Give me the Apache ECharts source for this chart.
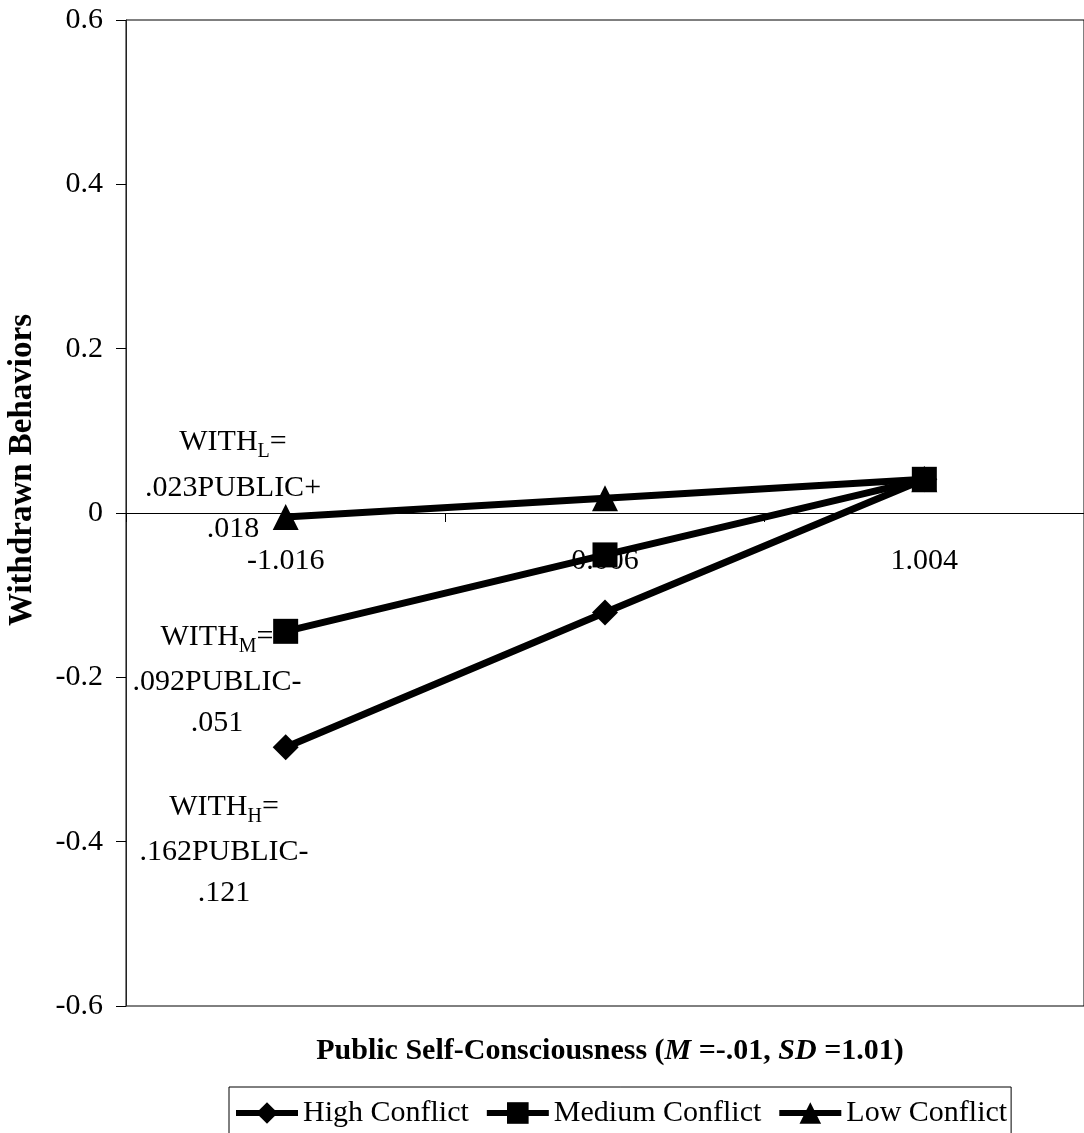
<!DOCTYPE html>
<html>
<head>
<meta charset="utf-8">
<script src="https://cdn.jsdelivr.net/npm/echarts@6/dist/echarts.min.js"></script>
<style>html,body{margin:0;padding:0;background:#fff;}#c{width:1084px;height:1133px;}</style>
</head>
<body>
<div id="c"></div>
<script>
const categories = ['-1.016', '0.006', '1.004'];
const seriesNames = ['High Conflict', 'Medium Conflict', 'Low Conflict'];
const highConflict = [-0.285, -0.121, 0.041];
const mediumConflict = [-0.144, -0.051, 0.041];
const lowConflict = [-0.005, 0.018, 0.041];
const yTickLabels = ['-0.6', '-0.4', '-0.2', '0', '0.2', '0.4', '0.6'];
const yMin = -0.6, yMax = 0.6, yStep = 0.2;
const equationLines = {
  L: ['{m|WITH}{s|L}{m|=}', '.023PUBLIC+', '.018'],
  M: ['{m|WITH}{s|M}{m|=}', '.092PUBLIC-', '.051'],
  H: ['{m|WITH}{s|H}{m|=}', '.162PUBLIC-', '.121']
};

const FONT = "'Liberation Serif', 'Times New Roman', serif";
const chart = echarts.init(document.getElementById('c'), null, {renderer: 'canvas'});

const GRID_TOP = 20, GRID_H = 986;
// x axis sits on the value 0: offset it up from the grid bottom by the scale's own position
const zeroFrac = (yMax - 0) / (yMax - yMin);
const xAxisOffset = -(GRID_H - GRID_H * zeroFrac);

const richSub = {
  m: {fontSize: 30, fontFamily: FONT, color: '#000', lineHeight: 40},
  s: {fontSize: 20, fontFamily: FONT, color: '#000', lineHeight: 20, verticalAlign: 'bottom'}
};
function annoGroup(lines, cx, ys) {
  return lines.map((t, i) => ({
    type: 'text', x: cx, y: ys[i], z: 100,
    style: {
      text: i === 0 ? t : '{m|' + t + '}',
      rich: richSub,
      align: 'center', verticalAlign: 'middle',
      fill: '#000', fontSize: 30, fontFamily: FONT
    }
  }));
}

const graphics = [].concat(
  annoGroup(equationLines.L, 233, [442, 488, 529]),
  annoGroup(equationLines.M, 217, [637, 682, 723]),
  annoGroup(equationLines.H, 224, [807, 852, 893]),
  [{
    type: 'text', x: 22, y: 470, rotation: Math.PI / 2, z: 100,
    style: {
      text: 'Withdrawn Behaviors', align: 'center', verticalAlign: 'middle',
      fill: '#000', fontSize: 33, fontWeight: 'bold', fontFamily: FONT
    }
  }, {
    type: 'text', x: 610, y: 1051, z: 100,
    style: {
      text: '{b|Public Self-Consciousness (}{i|M}{b| =-.01, }{i|SD}{b| =1.01)}',
      align: 'center', verticalAlign: 'middle',
      rich: {
        b: {fontSize: 30, fontWeight: 'bold', fontFamily: FONT, color: '#000'},
        i: {fontSize: 30, fontWeight: 'bold', fontStyle: 'italic', fontFamily: FONT, color: '#000'}
      }
    }
  }]
);

const lineCommon = {
  type: 'line',
  lineStyle: {color: '#000', width: 7},
  itemStyle: {color: '#000'},
  showSymbol: true,
  emphasis: {disabled: true},
  animation: false
};

chart.setOption({
  animation: false,
  backgroundColor: '#fff',
  grid: {left: 126, top: GRID_TOP, width: 964, height: GRID_H, show: true, borderColor: '#000', borderWidth: 1},
  xAxis: {
    type: 'category', data: categories, boundaryGap: true,
    position: 'bottom', offset: xAxisOffset,
    axisLine: {onZero: false, lineStyle: {color: '#000', width: 1}},
    axisTick: {show: true, length: 9, lineStyle: {color: '#000'}},
    axisLabel: {fontSize: 30, fontFamily: FONT, color: '#000', margin: 33},
    splitLine: {show: false}
  },
  yAxis: {
    type: 'value', min: yMin, max: yMax, interval: yStep,
    axisLine: {show: true, lineStyle: {color: '#222', width: 1}},
    axisTick: {show: true, length: 10, lineStyle: {color: '#000'}},
    axisLabel: {
      fontSize: 30, fontFamily: FONT, color: '#000', margin: 23,
      formatter: v => yTickLabels[Math.round((v - yMin) / yStep)]
    },
    splitLine: {show: false}
  },
  legend: {
    data: seriesNames,
    left: 229, top: 1087,
    orient: 'horizontal',
    itemWidth: 62, itemHeight: 27, itemGap: 15,
    padding: [11, 4, 11, 4],
    borderColor: '#000', borderWidth: 1,
    lineStyle: {width: 6, color: '#000'},
    textStyle: {fontSize: 30, fontFamily: FONT, color: '#000', padding: [0, 0, 0, 0]},
    selectedMode: false
  },
  graphic: graphics,
  series: [
    Object.assign({}, lineCommon, {name: seriesNames[0], data: highConflict, symbol: 'diamond', symbolSize: 26, z: 2}),
    Object.assign({}, lineCommon, {name: seriesNames[1], data: mediumConflict, symbol: 'rect', symbolSize: 25, z: 4}),
    Object.assign({}, lineCommon, {name: seriesNames[2], data: lowConflict, symbol: 'triangle', symbolSize: 26, z: 3})
  ]
});
</script>
</body>
</html>
